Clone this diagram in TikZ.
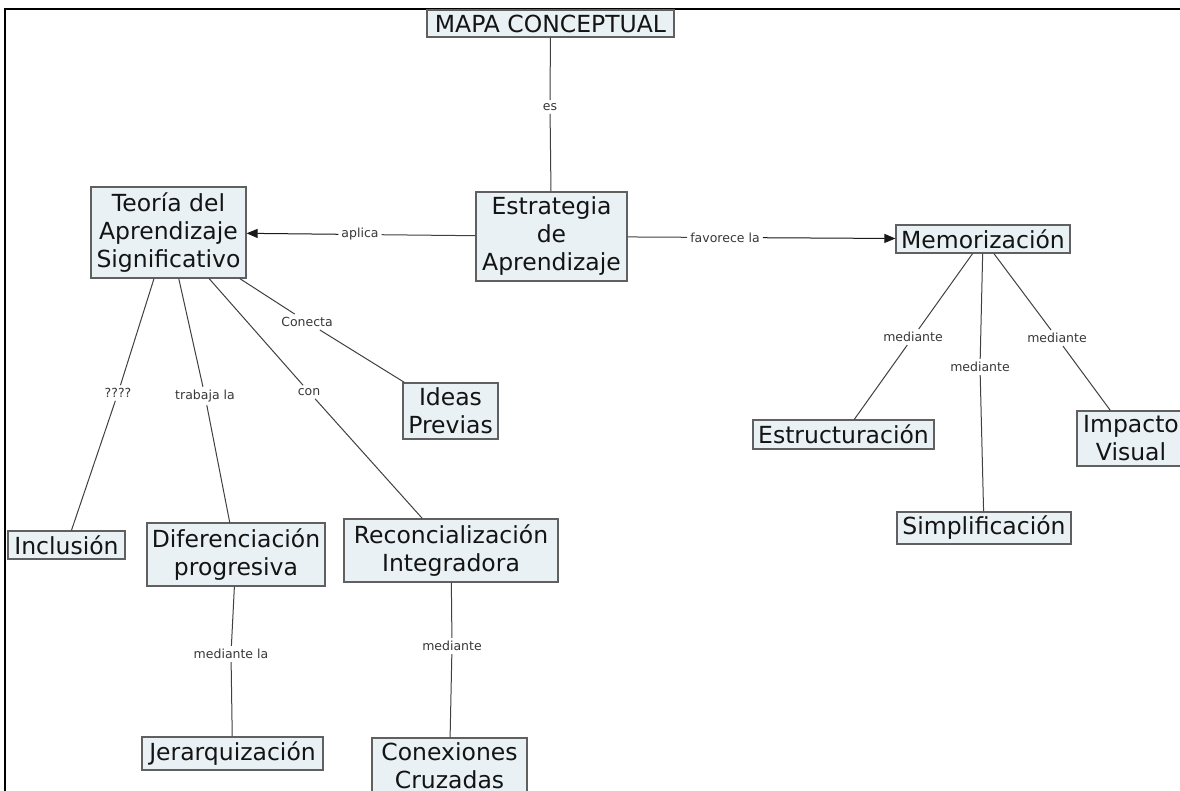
\documentclass[tikz,border=0pt]{standalone}
\usepackage{fontspec}
\setmainfont{DejaVu Sans}
\usetikzlibrary{arrows.meta}
\definecolor{cmapfill}{HTML}{E9F1F4}
\definecolor{cmapline}{HTML}{606060}
\tikzset{
  concepto/.style={draw=cmapline,fill=cmapfill,line width=1.2pt,align=center,
    inner sep=2pt,text=black!92,font=\fontsize{23.5}{28}\selectfont},
  enlace/.style={inner sep=3pt,text=black!78,font=\fontsize{12.5}{14}\selectfont},
  conector/.style={draw=black!75,line width=1pt},
  flecha/.style={conector,draw=black!90,-{Triangle[length=11pt,width=9pt]}}
}
\begin{document}
\begin{tikzpicture}[x=1pt,y=-1pt]
\useasboundingbox (0,0) rectangle (1180,790);
\clip (0,0) rectangle (1180,790);
\fill[white] (0,0) rectangle (1180,790);
\draw[line width=2.4pt] (5,792) -- (5,9) -- (1182,9);
% conceptos
\node[concepto,minimum width=247pt,minimum height=27pt] (mapa) at (550.5,23.5) {MAPA CONCEPTUAL};
\node[concepto,minimum width=151pt,minimum height=89pt] (estrategia) at (551.5,236.5) {Estrategia\\de\\Aprendizaje};
\node[concepto,minimum width=155pt,minimum height=91pt] (teoria) at (168.5,232.5) {Teoría del\\Aprendizaje\\Significativo};
\node[concepto,minimum width=174pt,minimum height=28pt] (memo) at (983,239) {Memorización};
\node[concepto,minimum width=95pt,minimum height=56pt] (ideas) at (450.5,411) {Ideas\\Previas};
\node[concepto,minimum width=117pt,minimum height=28pt] (inclusion) at (66.5,545) {Inclusión};
\node[concepto,minimum width=178pt,minimum height=63pt] (difer) at (236,554.5) {Diferenciación\\progresiva};
\node[concepto,minimum width=214pt,minimum height=63pt] (reconc) at (451,550.5) {Reconcialización\\Integradora};
\node[concepto,minimum width=181pt,minimum height=33pt] (jerarq) at (232.5,753.5) {Jerarquización};
\node[concepto,minimum width=155pt,minimum height=56pt] (conex) at (449.5,766) {Conexiones\\Cruzadas};
\node[concepto,minimum width=181pt,minimum height=29pt] (estruct) at (843.5,434.5) {Estructuración};
\node[concepto,minimum width=174pt,minimum height=32pt] (simpl) at (984,528) {Simplificación};
\node[concepto,minimum width=108pt,minimum height=55pt] (impacto) at (1131,438.5) {Impacto\\Visual};
% frases de enlace
\node[enlace] (l-es) at (550,107) {es};
\node[enlace] (l-aplica) at (360,234.5) {aplica};
\node[enlace] (l-favorece) at (725,237.5) {favorece la};
\node[enlace] (l-incl) at (118,393) {????};
\node[enlace] (l-trabaja) at (205,396) {trabaja la};
\node[enlace] (l-con) at (309,392) {con};
\node[enlace] (l-conecta) at (307,322) {Conecta};
\node[enlace] (l-jerarq) at (231,654) {mediante la};
\node[enlace] (l-conex) at (452,646) {mediante};
\node[enlace] (l-estruct) at (913,337) {mediante};
\node[enlace] (l-simpl) at (980,367) {mediante};
\node[enlace] (l-impacto) at (1057,338) {mediante};
% conectores
\draw[conector] (mapa) -- (l-es) -- (estrategia);
\draw[conector] (estrategia) -- (l-aplica);
\draw[flecha] (l-aplica) -- (teoria);
\draw[conector] (estrategia) -- (l-favorece);
\draw[flecha] (l-favorece) -- (memo);
\draw[conector] (teoria) -- (l-incl) -- (inclusion);
\draw[conector] (teoria) -- (l-trabaja) -- (difer);
\draw[conector] (teoria) -- (l-con) -- (reconc);
\draw[conector] (teoria) -- (l-conecta) -- (ideas);
\draw[conector] (difer) -- (l-jerarq) -- (jerarq);
\draw[conector] (reconc) -- (l-conex) -- (conex);
\draw[conector] (memo) -- (l-estruct) -- (estruct);
\draw[conector] (memo) -- (l-simpl) -- (simpl);
\draw[conector] (memo) -- (l-impacto) -- (impacto);
\end{tikzpicture}
\end{document}
